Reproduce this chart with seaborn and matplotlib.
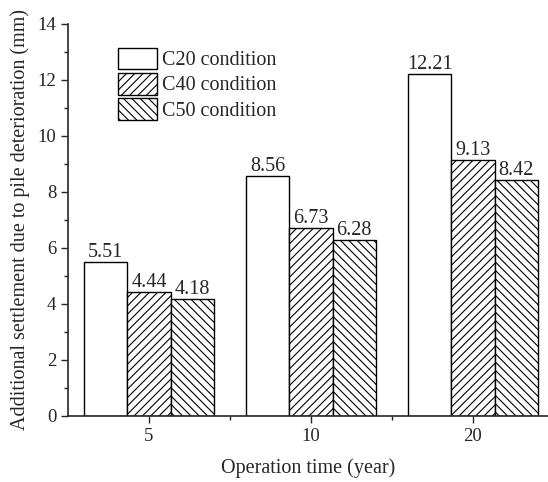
import matplotlib
matplotlib.use("Agg")
import matplotlib.pyplot as plt
import seaborn as sns
import pandas as pd
from matplotlib.ticker import MultipleLocator, FixedLocator
from matplotlib.patches import Patch

years = ["5", "10", "20"]
conditions = ["C20 condition", "C40 condition", "C50 condition"]
c20 = [5.51, 8.56, 12.21]
c40 = [4.44, 6.73, 9.13]
c50 = [4.18, 6.28, 8.42]
hatches = ["", "////", "\\\\\\\\"]

rows = []
for cond, vals in zip(conditions, [c20, c40, c50]):
    for y, v in zip(years, vals):
        rows.append({"year": y, "cond": cond, "value": v})
df = pd.DataFrame(rows)

sns.set_style("ticks")
plt.rcParams["font.family"] = ["Liberation Serif", "DejaVu Serif"]
plt.rcParams["hatch.linewidth"] = 0.8

fig = plt.figure(figsize=(5.48, 4.82), dpi=100)
ax = fig.add_axes([68/548, 1-416/482, 480/548, 392/482])

sns.barplot(data=df, x="year", y="value", hue="cond", order=years,
            hue_order=conditions, palette=["white"]*3, edgecolor="black",
            linewidth=1.0, width=0.8, dodge=True, ax=ax, legend=False,
            saturation=1)

for cont, h in zip(ax.containers, hatches):
    for bar in cont:
        bar.set_hatch(h)
    labels = [f"{v:.2f}" for v in cont.datavalues]
    ax.bar_label(cont, labels=labels, fontsize=14.5, padding=0)

ax.set_xlim(-0.5, -0.5 + 480/162)
ax.set_ylim(0, 14)
ax.yaxis.set_major_locator(MultipleLocator(2))
ax.yaxis.set_minor_locator(MultipleLocator(1))
ax.xaxis.set_minor_locator(FixedLocator([0.5, 1.5]))
ax.tick_params(axis="both", which="major", direction="out", length=5, width=1, labelsize=13.5)
ax.tick_params(axis="both", which="minor", direction="out", length=3, width=1)
for s in ["top", "right"]:
    ax.spines[s].set_visible(False)
for s in ["left", "bottom"]:
    ax.spines[s].set_linewidth(1.2)

ax.set_xlabel("Operation time (year)", fontsize=14.5, labelpad=10)
ax.set_ylabel("Additional settlement due to pile deterioration (mm)", fontsize=14.5, labelpad=5)

handles = [Patch(facecolor="white", edgecolor="black", hatch=h, linewidth=1.0) for h in hatches]
ax.legend(handles, conditions, loc="upper left", bbox_to_anchor=(0.104, 0.94),
          frameon=False, fontsize=14.5, handlelength=1.95, handleheight=1.3,
          handletextpad=0.25, labelspacing=0.12, borderaxespad=0, borderpad=0)

fig.savefig("out.png", dpi=100)
